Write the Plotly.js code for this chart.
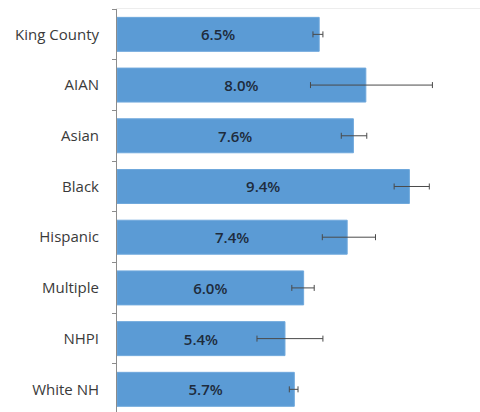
<!DOCTYPE html>
<html>
<head>
<meta charset="utf-8">
<script src="https://cdn.plot.ly/plotly-3.0.1.min.js"></script>
<style>
html,body{margin:0;padding:0;background:#fff;}
#chart{width:480px;height:412px;}
</style>
</head>
<body>
<div id="chart"></div>
<script>
const categories = ['King County','AIAN','Asian','Black','Hispanic','Multiple','NHPI','White NH'];
const values = [6.5, 8.0, 7.6, 9.4, 7.4, 6.0, 5.4, 5.7];
const errPlus = [0.12, 2.14, 0.43, 0.64, 0.91, 0.34, 1.22, 0.12];
const errMinus = [0.2, 1.78, 0.39, 0.49, 0.8, 0.38, 0.9, 0.16];
const labels = values.map(v => v.toFixed(1) + '%');

const trace = {
  type: 'bar',
  orientation: 'h',
  y: categories,
  x: values,
  text: labels,
  textposition: 'inside',
  insidetextanchor: 'middle',
  textangle: 0,
  textfont: {family: 'Open Sans, sans-serif', size: 15, color: '#1e2b3c', weight: 600},
  marker: {color: '#5b9bd5', line: {color: '#6fa8dc', width: 1}},
  error_x: {
    type: 'data', symmetric: false,
    array: errPlus, arrayminus: errMinus,
    color: '#4a4a4a', thickness: 1, width: 3
  },
  hoverinfo: 'none'
};

const layout = {
  width: 480, height: 412,
  margin: {l: 117, r: 0, t: 9, b: 0},
  paper_bgcolor: '#ffffff',
  plot_bgcolor: '#ffffff',
  showlegend: false,
  bargap: 0.33,
  xaxis: {
    range: [0, 11.67],
    side: 'top',
    showgrid: false, zeroline: false,
    showticklabels: false, ticks: '',
    showline: true, linecolor: '#ededed', linewidth: 1
  },
  yaxis: {
    type: 'category',
    categoryorder: 'array', categoryarray: categories,
    range: [7.447, -0.5],
    showgrid: false, zeroline: false,
    showline: true, linecolor: '#8c8c8c', linewidth: 1,
    ticks: 'outside', tickson: 'boundaries', ticklen: 4, tickcolor: '#8c8c8c',
    ticklabelstandoff: 14,
    tickfont: {family: 'Open Sans, sans-serif', size: 15, color: '#3a3a3a'}
  }
};

Plotly.newPlot('chart', [trace], layout, {displayModeBar: false, staticPlot: true});
</script>
</body>
</html>
